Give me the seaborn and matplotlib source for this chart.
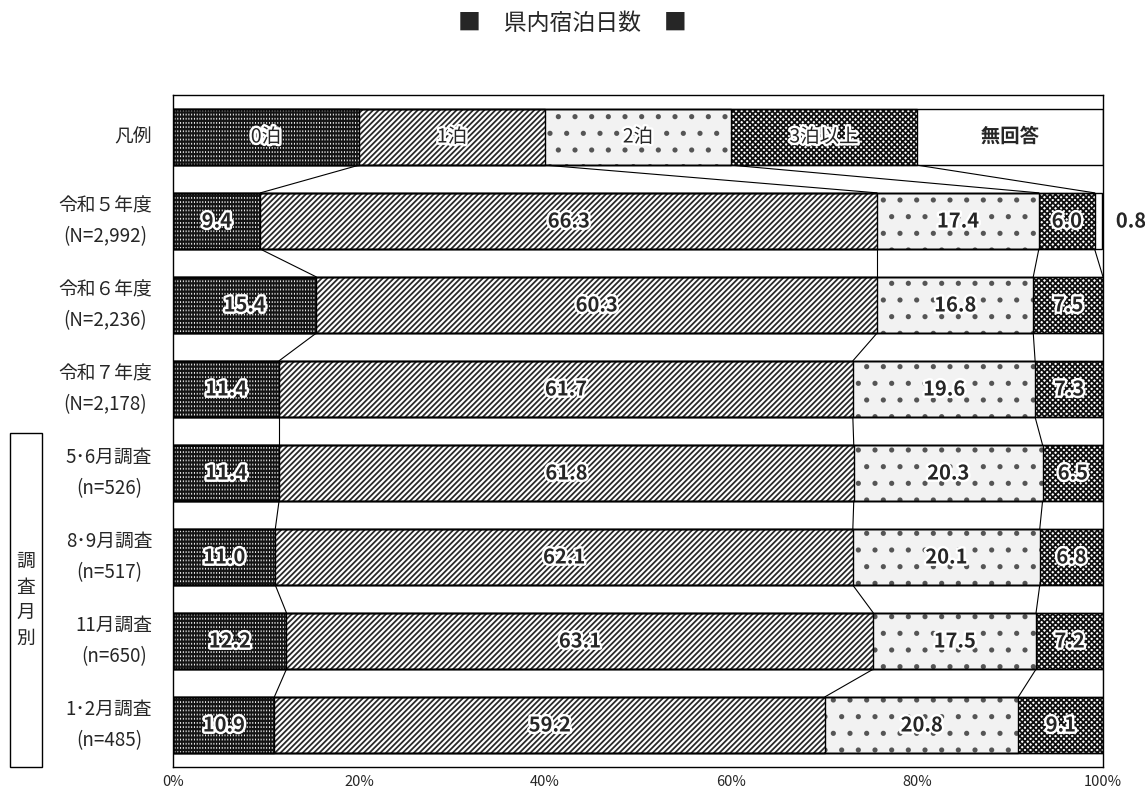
import matplotlib
matplotlib.use("Agg")
import matplotlib.pyplot as plt
import matplotlib.patheffects as pe
from matplotlib.patches import Rectangle
import numpy as np
import pandas as pd
import seaborn as sns

# ---- data -------------------------------------------------------------
rows = [
    "凡例",
    "令和５年度\n(N=2,992)",
    "令和６年度\n(N=2,236)",
    "令和７年度\n(N=2,178)",
    "5･6月調査\n(n=526)",
    "8･9月調査\n(n=517)",
    "11月調査\n(n=650)",
    "1･2月調査\n(n=485)",
]
categories = ["0泊", "1泊", "2泊", "3泊以上", "無回答"]
# first entry of each list is the legend row (equal 20% cells)
nights0 = [20, 9.4, 15.4, 11.4, 11.4, 11.0, 12.2, 10.9]
nights1 = [20, 66.3, 60.3, 61.7, 61.8, 62.1, 63.1, 59.2]
nights2 = [20, 17.4, 16.8, 19.6, 20.3, 20.1, 17.5, 20.8]
nights3 = [20, 6.0, 7.5, 7.3, 6.5, 6.8, 7.2, 9.1]
no_answer = [20, 0.8, 0, 0, 0, 0, 0, 0]
xticks = [0, 20, 40, 60, 80, 100]

# face colour, hatch, hatch colour
styles = {
    "0泊": ("#141414", "----", "white"),
    "1泊": ("white", "//////", "#2a2a2a"),
    "2泊": ("#f2f2f2", ".", "#555555"),
    "3泊以上": ("white", "xxxxxx", "#111111"),
    "無回答": ("white", "", "white"),
}
BAR_W = 0.67

sns.set_style("white")
plt.rcParams["font.family"] = ["Noto Sans CJK JP", "DejaVu Sans"]
plt.rcParams["hatch.linewidth"] = 1.3

df = pd.DataFrame({"row": rows, "0泊": nights0, "1泊": nights1, "2泊": nights2,
                   "3泊以上": nights3, "無回答": no_answer})
cum = df[categories].cumsum(axis=1)
cum["row"] = rows

fig = plt.figure(figsize=(11.45, 7.95), dpi=100)
W, H = 1145, 795
ax = fig.add_axes([173 / W, (H - 767) / H, 930 / W, 672 / H])

# stacked bars: draw cumulative totals back to front
for cat in reversed(categories):
    face, hatch, hc = styles[cat]
    sns.barplot(data=cum, x=cat, y="row", order=rows, orient="h", color=face,
                saturation=1, width=BAR_W, hatch=hatch, edgecolor=hc, linewidth=0,
                errorbar=None, ax=ax)
    if cat == "0泊":
        # break the white lines into short dashes
        sns.barplot(data=cum, x=cat, y="row", order=rows, orient="h", fill=False,
                    color="#141414", width=BAR_W, hatch="||||||", linewidth=0,
                    errorbar=None, ax=ax)
for cat in categories:
    sns.barplot(data=cum, x=cat, y="row", order=rows, orient="h", fill=False,
                color="black", linewidth=1.0, width=BAR_W, errorbar=None, ax=ax)

# connector lines between neighbouring bars
for i in range(len(rows) - 1):
    for cat in categories[:4]:
        ax.plot([cum.loc[i, cat], cum.loc[i + 1, cat]],
                [i + BAR_W / 2, i + 1 - BAR_W / 2], color="black", lw=0.8)

halo = [pe.withStroke(linewidth=3.5, foreground="white")]
# legend row labels
for k, cat in enumerate(categories):
    x = cum.loc[0, cat] - df.loc[0, cat] / 2
    ax.text(x, 0, cat, ha="center", va="center", fontsize=14,
            fontweight="bold" if cat == "無回答" else "normal", path_effects=halo)

# value labels
for i in range(1, len(rows)):
    for cat in categories:
        v = df.loc[i, cat]
        if v <= 0:
            continue
        if cat == "無回答":
            x = 103
        else:
            x = cum.loc[i, cat] - v / 2
        ax.text(x, i, f"{v:.1f}", ha="center", va="center", fontsize=14.5,
                fontweight="bold", path_effects=halo, clip_on=False)

# axes cosmetics
ax.set_xlim(0, 100)
ax.set_ylim(len(rows) - 0.5, -0.5)
ax.set_xlabel("")
ax.set_ylabel("")
ax.set_xticks(xticks)
ax.set_xticklabels([f"{t}%" for t in xticks], fontsize=10.5)
ax.set_yticks(np.arange(-0.5, len(rows)), labels=[""] * (len(rows) + 1))
ax.set_yticks(np.arange(len(rows)), labels=rows, minor=True)
ax.tick_params(axis="x", direction="out", length=5, width=1, color="black", pad=1)
ax.tick_params(axis="y", which="major", direction="out", length=5, width=1, color="black")
ax.tick_params(axis="y", which="minor", length=0, pad=15, labelsize=13.5)
for t in ax.get_yticklabels(minor=True):
    t.set_multialignment("center")
    t.set_verticalalignment("center")
    t.set_linespacing(1.6)
for s in ax.spines.values():
    s.set_visible(True)
    s.set_color("black")
    s.set_linewidth(1)

# title
fig.text(0.5, 1 - 24 / H, "■　県内宿泊日数　■", ha="center", va="center", fontsize=16.5)

# group box on the left
fig.add_artist(Rectangle((10 / W, (H - 767) / H), 32 / W, 334 / H,
                         transform=fig.transFigure, fill=False, lw=1, color="black"))
fig.text(26 / W, 1 - 600 / H, "調\n査\n月\n別", ha="center", va="center",
         fontsize=13.5, linespacing=1.3)

fig.savefig("out.png", dpi=100)
